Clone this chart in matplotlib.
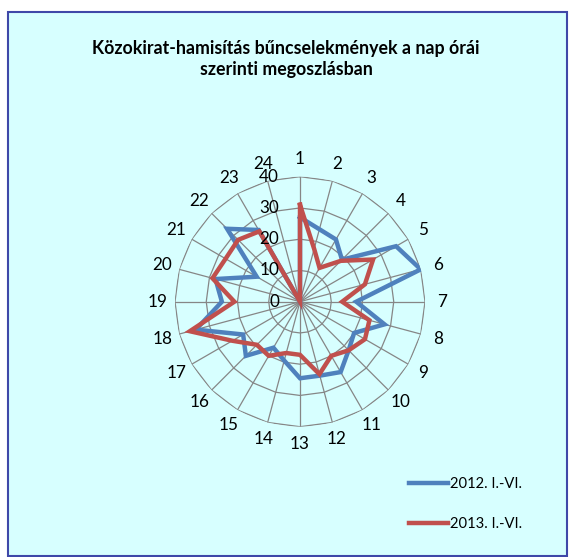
import numpy as np
import matplotlib
matplotlib.use("Agg")
import matplotlib.pyplot as plt
from matplotlib.patches import Rectangle
from matplotlib.lines import Line2D

plt.rcParams["font.family"] = ["Lato", "DejaVu Sans"]

title = "Közokirat-hamisítás bűncselekmények a nap órái\nszerinti megoszlásban"
hours = [str(h) for h in range(1, 25)]
series_names = ["2012. I.-VI.", "2013. I.-VI."]
vals_2012 = [27, 24, 23, 19, 35.5, 40, 18, 28, 20, 22, 26, 24.5,
             24.5, 19.5, 17, 24.5, 21, 34.5, 25, 28, 16, 33, 26.5, 0]
vals_2013 = [31, 17.5, 12.5, 18.5, 27, 21.5, 13.5, 23, 24, 22, 20, 24,
             17, 17, 20, 19.5, 25, 36.5, 21, 29, 27.5, 28, 26, 0]
r_ticks = [0, 10, 20, 30, 40]
colors = ["#4F81BD", "#C0504D"]

W, H = 569, 557
fig = plt.figure(figsize=(W / 100, H / 100), dpi=100)
fig.patch.set_facecolor("white")

# panel background with border
fig.patches.append(Rectangle((8 / W, 1 - 556 / H), 559 / W, 544 / H,
                             transform=fig.transFigure, facecolor="#D7FFFF",
                             edgecolor="#3F48A8", lw=1.5, zorder=-5))

fig.text(286 / W, 1 - 59 / H, title, ha="center", va="center",
         fontsize=12.8, fontweight="bold", linespacing=1.35)

cx, cy, rad = 300 / W, 1 - 301.7 / H, 125
ax = fig.add_axes([cx - rad / W, cy - rad / H, 2 * rad / W, 2 * rad / H],
                  projection="polar")
ax.set_theta_zero_location("N")
ax.set_theta_direction(-1)
ax.set_ylim(0, 40)
ax.grid(False)
ax.set_xticks([])
ax.set_yticks([])
ax.spines["polar"].set_visible(False)
ax.patch.set_visible(False)

theta = np.deg2rad(np.arange(24) * 15)
theta_closed = np.append(theta, theta[0])

# polygonal gridlines and spokes
for r in r_ticks[1:]:
    ax.plot(theta_closed, [r] * 25, color="#868686", lw=0.9, zorder=1)
for t in theta:
    ax.plot([t, t], [0, r_ticks[-1]], color="#868686", lw=0.9, zorder=1)

for vals, c, name in zip([vals_2012, vals_2013], colors, series_names):
    ax.plot(theta_closed, vals + vals[:1], color=c, lw=3.2, zorder=3,
            solid_joinstyle="miter", label=name)

for t, lab in zip(theta, hours):
    ax.text(t, 45.6, lab, ha="center", va="center", fontsize=12.3)

for r in r_ticks:
    ax.annotate(str(r), xy=(0, r), xytext=(-15, 0), textcoords="offset points",
                ha="right", va="center", fontsize=12.3, zorder=4)

handles = [Line2D([], [], color=c, lw=3.2) for c in colors]
fig.legend(handles, series_names, loc="center left",
           bbox_to_anchor=(396 / W, 1 - 504 / H), frameon=False, fontsize=10.6,
           handlelength=2.6, handletextpad=0.15, labelspacing=1.75)

fig.savefig("out.png", dpi=100)
